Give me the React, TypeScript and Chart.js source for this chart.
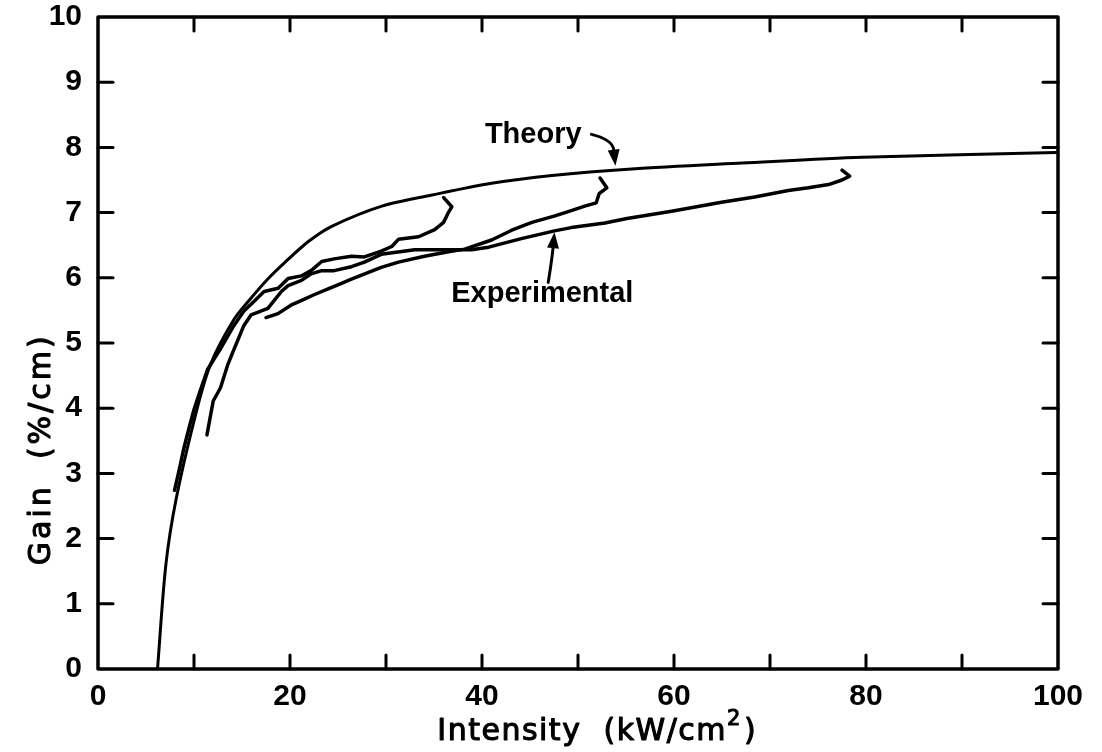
import React, { useEffect, useRef } from 'react';
import { Chart, registerables } from 'chart.js';

Chart.register(...registerables);

// Theory curve
const theoryX = [6.2, 7.07, 8.17, 10.3, 11.74, 14.16, 15.95, 17.74, 19.42, 21.95, 24.35, 29.57, 34.8, 41.0, 47.3, 55.6, 67.1, 79.6, 99.8];
const theoryY = [0, 1.6, 2.63, 3.98, 4.68, 5.36, 5.69, 5.99, 6.23, 6.56, 6.79, 7.1, 7.27, 7.45, 7.57, 7.67, 7.76, 7.85, 7.92];

// Experimental trace ending near 36 kW/cm²
const expAX = [7.97, 8.51, 8.95, 9.49, 10.0, 10.67, 11.4, 12.15, 12.8, 14.16, 15.2, 16.27, 17.3, 18.77, 19.8, 21.2, 22.2, 23.3, 24.6, 26.4, 27.75, 29.5, 30.6, 31.3, 33.4, 35.07, 36.0, 36.5, 36.86, 36.0];
const expAY = [2.74, 3.09, 3.39, 3.7, 3.98, 4.28, 4.59, 4.77, 4.92, 5.27, 5.49, 5.64, 5.79, 5.84, 5.99, 6.03, 6.11, 6.25, 6.29, 6.33, 6.32, 6.41, 6.48, 6.59, 6.63, 6.74, 6.85, 7.0, 7.09, 7.23];

// Experimental trace ending near 52 kW/cm²
const expBX = [17.5, 18.75, 20.1, 21.16, 22.5, 23.97, 25.3, 26.4, 29.5, 31.3, 34.0, 36.5, 38.2, 41.0, 43.1, 45.2, 47.6, 49.3, 50.7, 51.9, 52.2, 53.0, 52.3];
const expBY = [5.39, 5.45, 5.58, 5.65, 5.74, 5.83, 5.91, 5.98, 6.16, 6.24, 6.33, 6.4, 6.44, 6.58, 6.73, 6.85, 6.95, 7.03, 7.1, 7.15, 7.29, 7.38, 7.53];

// Experimental trace ending near 77 kW/cm²
const expCX = [11.35, 12.0, 12.75, 13.5, 14.1, 15.2, 15.94, 17.7, 19.1, 19.8, 21.2, 22.2, 23.3, 24.6, 26.4, 27.75, 29.5, 33.0, 36.5, 38.9, 40.7, 44.1, 47.55, 49.3, 52.8, 55.1, 59.75, 64.95, 68.4, 71.9, 74.0, 76.1, 77.5, 78.3, 77.5];
const expCY = [3.59, 4.11, 4.31, 4.66, 4.88, 5.27, 5.43, 5.53, 5.79, 5.88, 5.96, 6.06, 6.11, 6.11, 6.17, 6.24, 6.36, 6.43, 6.43, 6.43, 6.47, 6.6, 6.72, 6.77, 6.84, 6.91, 7.02, 7.16, 7.24, 7.34, 7.38, 7.43, 7.5, 7.56, 7.65];

const xTickStep = 10;
const yTickStep = 1;

const FONT = '"Liberation Sans", "DejaVu Sans", sans-serif';
const TITLE_FONT = '"DejaVu Sans", "Liberation Sans", sans-serif';

const toPts = (xs: number[], ys: number[]) => xs.map((x, i) => ({ x, y: ys[i] }));

const decorPlugin = {
  id: 'decor',
  afterDatasetsDraw(chart: any) {
    const { ctx, chartArea: ca, scales } = chart;
    const xs = scales.x;
    const ys = scales.y;
    const line = (x1: number, y1: number, x2: number, y2: number) => {
      ctx.beginPath();
      ctx.moveTo(x1, y1);
      ctx.lineTo(x2, y2);
      ctx.stroke();
    };
    ctx.save();
    ctx.strokeStyle = '#000';
    ctx.fillStyle = '#000';
    ctx.lineCap = 'round';
    ctx.lineJoin = 'round';
    // frame
    ctx.lineWidth = 3.5;
    ctx.strokeRect(ca.left, ca.top, ca.right - ca.left, ca.bottom - ca.top);
    // inward ticks
    ctx.lineWidth = 3;
    for (let v = yTickStep; v < 10; v += yTickStep) {
      const py = ys.getPixelForValue(v);
      line(ca.left, py, ca.left + 15, py);
      line(ca.right, py, ca.right - 15, py);
    }
    for (let v = xTickStep; v < 100; v += xTickStep) {
      const px = xs.getPixelForValue(v);
      line(px, ca.bottom, px, ca.bottom - 14);
      line(px, ca.top, px, ca.top + 14);
    }

    // annotations
    ctx.font = `bold 29px ${FONT}`;
    ctx.textBaseline = 'alphabetic';
    ctx.textAlign = 'left';
    ctx.fillText('Theory', xs.getPixelForValue(40.3), ys.getPixelForValue(8.07));
    ctx.fillText('Experimental', xs.getPixelForValue(36.8), ys.getPixelForValue(5.63));

    const arrow = (p0: number[], c: number[], p1: number[]) => {
      const a = [xs.getPixelForValue(p0[0]), ys.getPixelForValue(p0[1])];
      const b = [xs.getPixelForValue(c[0]), ys.getPixelForValue(c[1])];
      const t = [xs.getPixelForValue(p1[0]), ys.getPixelForValue(p1[1])];
      const ang = Math.atan2(t[1] - b[1], t[0] - b[0]);
      const L = 16, W = 6;
      const base = [t[0] - L * Math.cos(ang), t[1] - L * Math.sin(ang)];
      ctx.lineWidth = 3;
      ctx.beginPath();
      ctx.moveTo(a[0], a[1]);
      ctx.quadraticCurveTo(b[0], b[1], base[0], base[1]);
      ctx.stroke();
      ctx.beginPath();
      ctx.moveTo(t[0], t[1]);
      ctx.lineTo(base[0] + W * Math.sin(ang), base[1] - W * Math.cos(ang));
      ctx.lineTo(base[0] - W * Math.sin(ang), base[1] + W * Math.cos(ang));
      ctx.closePath();
      ctx.fill();
    };
    arrow([51.4, 8.2], [53.6, 8.12], [53.9, 7.72]);
    arrow([46.9, 5.93], [47.3, 6.3], [47.55, 6.7]);

    // axis titles (fill + thin stroke for a medium weight)
    const heavyText = (s: string, x: number, y: number) => {
      ctx.fillText(s, x, y);
      ctx.strokeText(s, x, y);
    };
    ctx.lineWidth = 1.1;
    (ctx as any).letterSpacing = '1.5px';
    ctx.font = `30px ${TITLE_FONT}`;
    const main = 'Intensity  (kW/cm';
    const close = ')';
    const wMain = ctx.measureText(main).width;
    const wClose = ctx.measureText(close).width;
    ctx.font = `21px ${TITLE_FONT}`;
    const wSup = ctx.measureText('2').width;
    const total = wMain + wSup + 2 + wClose;
    const cx = ca.left + 0.52 * (ca.right - ca.left);
    const by = ca.bottom + 71;
    let x0 = cx - total / 2;
    ctx.font = `30px ${TITLE_FONT}`;
    heavyText(main, x0, by);
    x0 += wMain;
    ctx.font = `21px ${TITLE_FONT}`;
    heavyText('2', x0, by - 15);
    x0 += wSup + 2;
    ctx.font = `30px ${TITLE_FONT}`;
    heavyText(close, x0, by);

    ctx.save();
    ctx.translate(ca.left - 56, ys.getPixelForValue(3.37));
    ctx.rotate(-Math.PI / 2);
    ctx.textAlign = 'center';
    ctx.textBaseline = 'middle';
    (ctx as any).letterSpacing = '3px';
    ctx.font = `30px ${TITLE_FONT}`;
    heavyText('Gain  (%/cm)', 0, 0);
    ctx.restore();

    ctx.restore();
  },
};

export default function App() {
  const ref = useRef<HTMLCanvasElement>(null);
  useEffect(() => {
    if (!ref.current) return;
    const common = { borderColor: '#000', borderWidth: 3.5, pointRadius: 0, fill: false, borderJoinStyle: 'round' as const, borderCapStyle: 'round' as const };
    const chart = new Chart(ref.current, {
      type: 'line',
      data: {
        datasets: [
          { ...common, label: 'Theory', data: toPts(theoryX, theoryY), tension: 0.3, borderWidth: 3 },
          { ...common, label: 'Experimental A', data: toPts(expAX, expAY), tension: 0 },
          { ...common, label: 'Experimental B', data: toPts(expBX, expBY), tension: 0 },
          { ...common, label: 'Experimental C', data: toPts(expCX, expCY), tension: 0 },
        ],
      },
      options: {
        animation: false,
        responsive: false,
        devicePixelRatio: 1,
        layout: { padding: { top: 17, right: 44, left: 0, bottom: 0 } },
        plugins: { legend: { display: false }, tooltip: { enabled: false } },
        scales: {
          x: {
            type: 'linear',
            min: 0,
            max: 100,
            grid: { display: false, drawTicks: false },
            border: { display: false },
            ticks: {
              stepSize: xTickStep,
              autoSkip: false,
              maxRotation: 0,
              padding: 10,
              color: '#000',
              font: { family: FONT, size: 30, weight: 'bold' },
              callback: (v: any) => (Number(v) % 20 === 0 ? String(v) : ''),
            },
            afterFit: (s: any) => { s.height = 83; s.paddingLeft = 0; s.paddingRight = 0; },
          },
          y: {
            type: 'linear',
            min: 0,
            max: 10,
            grid: { display: false, drawTicks: false },
            border: { display: false },
            ticks: {
              stepSize: yTickStep,
              padding: 16,
              color: '#000',
              font: { family: FONT, size: 30, weight: 'bold' },
            },
            afterFit: (s: any) => { s.width = 98; s.paddingTop = 0; s.paddingBottom = 0; },
          },
        },
      },
      plugins: [decorPlugin],
    });
    return () => chart.destroy();
  }, []);
  return (
    <div style={{ position: 'fixed', left: 0, top: 0, width: 1102, height: 752, background: '#fff' }}>
      <canvas ref={ref} width={1102} height={752} style={{ width: 1102, height: 752, display: 'block' }} />
    </div>
  );
}
